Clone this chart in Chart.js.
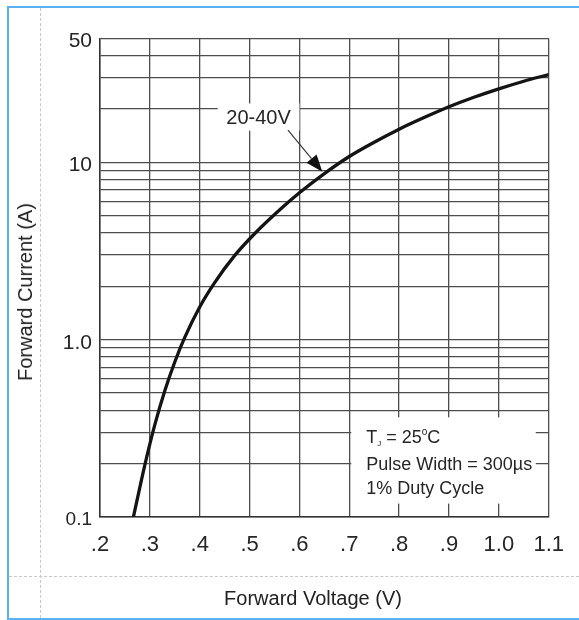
<!DOCTYPE html>
<html><head><meta charset="utf-8">
<script src="https://cdn.jsdelivr.net/npm/chart.js@4.4.1/dist/chart.umd.min.js"></script>
<style>
html,body{margin:0;padding:0;background:#fff;}
#wrap{position:relative;width:579px;height:620px;overflow:hidden;font-family:"Liberation Sans",Arial,sans-serif;color:#222;}
#c{position:absolute;left:0;top:0;}
.bl{position:absolute;background:#5ab2f3;}
</style></head>
<body><div id="wrap">
<div class="bl" style="left:7px;top:6px;width:572px;height:2px"></div>
<div class="bl" style="left:7px;top:6px;width:2px;height:614px"></div>
<div class="bl" style="left:7px;top:618px;width:572px;height:2px"></div>
<div style="position:absolute;left:40px;top:8px;height:610px;border-left:1px dashed #c8c8c8"></div>
<div style="position:absolute;left:9px;top:576px;width:570px;border-top:1px dashed #c8c8c8"></div>
<canvas id="c" width="579" height="620"></canvas>
<div style="position:absolute;left:213px;width:200px;top:587px;text-align:center;font-size:20px;line-height:22px;white-space:nowrap">Forward Voltage (V)</div>
<div style="position:absolute;left:25px;top:292px;transform:translate(-50%,-50%) rotate(-90deg);white-space:nowrap;font-size:20px;line-height:22px">Forward Current (A)</div>
</div>
<script>
// ---- data ----
const voltage = [0.267, 0.29, 0.31, 0.33, 0.35, 0.37, 0.40, 0.43, 0.47, 0.51, 0.56, 0.60, 0.65, 0.70, 0.75, 0.80, 0.85, 0.90, 0.95, 1.00, 1.05, 1.10];
const current = [0.1, 0.197, 0.332, 0.516, 0.749, 1.03, 1.53, 2.10, 2.98, 3.96, 5.39, 6.74, 8.65, 10.8, 13.0, 15.4, 17.9, 20.6, 23.3, 26.0, 28.7, 31.3];
const seriesLabel = '20-40V';
const xTickValues = [0.2, 0.3, 0.4, 0.5, 0.6, 0.7, 0.8, 0.9, 1.0, 1.1];
const xTickLabels = ['.2', '.3', '.4', '.5', '.6', '.7', '.8', '.9', '1.0', '1.1'];
const yGridValues = [0.1, 0.2, 0.3, 0.4, 0.5, 0.6, 0.7, 0.8, 0.9, 1, 2, 3, 4, 5, 6, 7, 8, 9, 10, 20, 30, 40, 50];
const yLabelValues = [0.1, 1, 10, 50];
const yLabelTexts = ['0.1', '1.0', '10', '50'];
const noteLine2 = 'Pulse Width = 300\u00b5s';
const noteLine3 = '1% Duty Cycle';

const FONT = '"Liberation Sans", Arial, sans-serif';
const TXT = '#262626';

const notes = {
  id: 'notes',
  beforeDatasetsDraw(chart) {
    const {ctx, scales: {x, y}} = chart;
    ctx.save();
    // conditions box
    const bx1 = x.getPixelForValue(0.704), bx2 = x.getPixelForValue(1.074);
    const by1 = y.getPixelForValue(0.365), by2 = y.getPixelForValue(0.119);
    ctx.fillStyle = '#fff';
    ctx.fillRect(bx1, by1, bx2 - bx1, by2 - by1);
    ctx.fillStyle = TXT;
    ctx.textBaseline = 'alphabetic';
    ctx.textAlign = 'left';
    let tx = bx1 + 15, base = by1 + 26;
    ctx.font = '18px ' + FONT;
    ctx.fillText('T', tx, base); tx += ctx.measureText('T').width;
    ctx.font = '8px ' + FONT;
    ctx.fillText('J', tx, base + 3); tx += ctx.measureText('J').width;
    ctx.font = '18px ' + FONT;
    ctx.fillText(' = 25', tx, base); tx += ctx.measureText(' = 25').width;
    ctx.font = '10px ' + FONT;
    ctx.fillText('o', tx, base - 8); tx += ctx.measureText('o').width;
    ctx.font = '18px ' + FONT;
    ctx.fillText('C', tx, base);
    ctx.fillText(noteLine2, bx1 + 15, by1 + 52.5);
    ctx.fillText(noteLine3, bx1 + 15, by1 + 77);
    // series label
    const lx1 = x.getPixelForValue(0.436), lx2 = x.getPixelForValue(0.6);
    const ly1 = y.getPixelForValue(21.5), ly2 = y.getPixelForValue(15.1);
    ctx.fillStyle = '#fff';
    ctx.fillRect(lx1, ly1, lx2 - lx1, ly2 - ly1);
    ctx.fillStyle = TXT;
    ctx.font = '20px ' + FONT;
    ctx.textAlign = 'center';
    ctx.textBaseline = 'middle';
    ctx.fillText(seriesLabel, (lx1 + lx2) / 2, (ly1 + ly2) / 2 + 1);
    ctx.restore();
  },
  afterDatasetsDraw(chart) {
    const {ctx, scales: {x, y}} = chart;
    const sx = x.getPixelForValue(0.577), sy = y.getPixelForValue(15.2);
    const ex = x.getPixelForValue(0.646), ey = y.getPixelForValue(8.85);
    const ang = Math.atan2(ey - sy, ex - sx);
    const L = 17, W = 6.5;
    const bxp = ex - L * Math.cos(ang), byp = ey - L * Math.sin(ang);
    ctx.save();
    ctx.strokeStyle = '#333';
    ctx.lineWidth = 1.1;
    ctx.beginPath(); ctx.moveTo(sx, sy); ctx.lineTo(bxp, byp); ctx.stroke();
    ctx.fillStyle = '#111';
    ctx.beginPath();
    ctx.moveTo(ex, ey);
    ctx.lineTo(bxp + W * Math.sin(ang), byp - W * Math.cos(ang));
    ctx.lineTo(bxp - W * Math.sin(ang), byp + W * Math.cos(ang));
    ctx.closePath(); ctx.fill();
    ctx.restore();
  }
};

const gridStyle = {color: '#4d4d4d', lineWidth: 1.3, drawTicks: false};

new Chart(document.getElementById('c'), {
  type: 'line',
  data: {
    datasets: [{
      label: seriesLabel,
      data: voltage.map((v, i) => ({x: v, y: current[i]})),
      borderColor: '#141414',
      borderWidth: 3.3,
      pointRadius: 0,
      fill: false,
      cubicInterpolationMode: 'monotone'
    }]
  },
  options: {
    responsive: false,
    animation: false,
    devicePixelRatio: 1,
    layout: {padding: {top: 38.5, right: 28, left: 0, bottom: 0}},
    plugins: {legend: {display: false}, tooltip: {enabled: false}},
    scales: {
      x: {
        type: 'linear', min: 0.2, max: 1.1,
        afterBuildTicks: s => { s.ticks = xTickValues.map(v => ({value: v})); },
        afterFit: s => { s.height = 103; },
        grid: gridStyle,
        border: {color: '#333', width: 1.5},
        ticks: {
          autoSkip: false, maxRotation: 0, padding: 15,
          color: TXT, font: {family: FONT, size: 22},
          callback: (v, i) => xTickLabels[i]
        }
      },
      y: {
        type: 'logarithmic', min: 0.1, max: 50,
        afterBuildTicks: s => { s.ticks = yGridValues.map(v => ({value: v})); },
        afterFit: s => { s.width = 100; },
        grid: gridStyle,
        border: {color: '#333', width: 1.5},
        ticks: {
          autoSkip: false, padding: 8, labelOffset: 3,
          color: TXT,
          font: ctx => ({family: FONT, size: (ctx.tick && ctx.tick.value === 0.1) ? 19 : 21}),
          callback: v => {
            const k = yLabelValues.findIndex(t => Math.abs(t - v) < 1e-9);
            return k >= 0 ? yLabelTexts[k] : '';
          }
        }
      }
    }
  },
  plugins: [notes]
});
</script>
</body></html>
